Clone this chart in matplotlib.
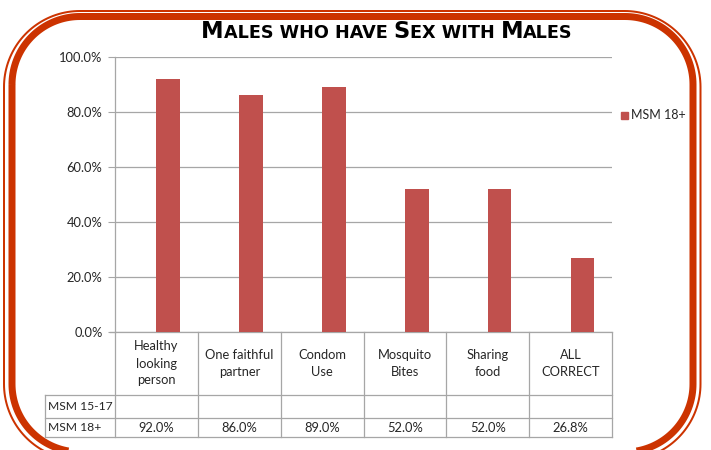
import matplotlib
matplotlib.use("Agg")
import matplotlib.pyplot as plt
import matplotlib.transforms as mtransforms
from matplotlib.patches import Rectangle, Polygon
from matplotlib.lines import Line2D
import numpy as np

# ---------------- data ----------------
categories = ["Healthy\nlooking\nperson", "One faithful\npartner", "Condom\nUse",
              "Mosquito\nBites", "Sharing\nfood", "ALL\nCORRECT"]
series_names = ["MSM 15-17", "MSM 18+"]
msm_15_17 = [None, None, None, None, None, None]
msm_18_plus = [92.0, 86.0, 89.0, 52.0, 52.0, 26.8]
y_ticks = [0, 20, 40, 60, 80, 100]
title = "Males who have Sex with Males"

# ---------------- style ----------------
BAR_COLOR = "#C0504D"
BORDER = "#CC3300"
GRID = "#A6A6A6"
TEXT = "#262626"
FONT = ["Lato", "DejaVu Sans"]
plt.rcParams["font.family"] = FONT
FS = 9.3

W, H = 711, 450
fig = plt.figure(figsize=(W / 100, H / 100), dpi=100)
fig.patch.set_facecolor("white")

# pixel helper axes (overlay, full figure, y down)
ov = fig.add_axes([0, 0, 1, 1], zorder=0)
ov.set_xlim(0, W)
ov.set_ylim(H, 0)
ov.axis("off")

# main plot area
x0, x1 = 115, 612
y_top, y_bot = 57, 332
ax = fig.add_axes([x0 / W, (H - y_bot) / H, (x1 - x0) / W, (y_bot - y_top) / H], zorder=2)
ax.patch.set_alpha(0)

n = len(categories)
xs = np.arange(n)
bw = 1 / 3.5
for k, (name, vals) in enumerate(zip(series_names, [msm_15_17, msm_18_plus])):
    offs = (k - 0.5) * bw
    v = [np.nan if a is None else a for a in vals]
    ax.bar(xs + offs, v, width=bw, color=BAR_COLOR, label=name, zorder=3)

ax.set_xlim(-0.5, n - 0.5)
ax.set_ylim(0, 100)
ax.set_yticks(y_ticks)
ax.set_yticklabels([f"{t:.1f}%" for t in y_ticks], color=TEXT, fontsize=FS)
ax.set_xticks([])
ax.tick_params(axis="y", length=5, color=GRID, pad=4)
ax.yaxis.grid(True, color=GRID, lw=0.9, zorder=0)
for s in ["top", "right", "bottom"]:
    ax.spines[s].set_visible(False)
ax.spines["left"].set_color(GRID)
ax.spines["left"].set_linewidth(0.9)

# ---------------- data table ----------------
bt = mtransforms.blended_transform_factory(ax.transData, ov.transData)
row_hdr_bot, row1_bot, row2_bot = 395, 418, 437
lab_left = 45
lw = 0.9
ov.add_line(Line2D([x0 - 5, x1], [y_bot, y_bot], color=GRID, lw=lw))
for yy in [row_hdr_bot, row1_bot, row2_bot]:
    ov.add_line(Line2D([lab_left, x1], [yy, yy], color=GRID, lw=lw))
for i in range(n + 1):
    xb = i - 0.5
    ax.add_line(Line2D([xb, xb], [y_bot, row2_bot], color=GRID, lw=lw,
                       transform=bt, clip_on=False))
ov.add_line(Line2D([lab_left, lab_left], [row_hdr_bot, row2_bot], color=GRID, lw=lw))

for i, c in enumerate(categories):
    ax.text(i, (y_bot + row_hdr_bot) / 2, c, transform=bt, ha="center", va="center",
            fontsize=FS, color=TEXT, linespacing=1.5, clip_on=False)
rows = [(series_names[0], msm_15_17, (row_hdr_bot + row1_bot) / 2),
        (series_names[1], msm_18_plus, (row1_bot + row2_bot) / 2)]
for name, vals, yc in rows:
    ov.text(lab_left + 3, yc, name, ha="left", va="center", fontsize=8.7, color=TEXT)
    for i, v in enumerate(vals):
        if v is not None:
            ax.text(i, yc, f"{v:.1f}%", transform=bt, ha="center", va="center",
                    fontsize=FS, color=TEXT, clip_on=False)

# ---------------- legend ----------------
ov.add_patch(Rectangle((621, 111.5), 7, 7, color=BAR_COLOR))
ov.text(631, 115, series_names[1], ha="left", va="center", fontsize=9, color=TEXT)

# ---------------- border (rounded rectangles, pixel coords) ----------------
def rrect(l, t, r, b, rad, lwpx):
    th = np.linspace(0, np.pi / 2, 40)
    pts = []
    cx, cy = l + rad, t + rad
    pts += list(zip(cx - rad * np.cos(th), cy - rad * np.sin(th)))
    cx, cy = r - rad, t + rad
    pts += list(zip(cx + rad * np.sin(th), cy - rad * np.cos(th)))
    cx, cy = r - rad, b - rad
    pts += list(zip(cx + rad * np.cos(th), cy + rad * np.sin(th)))
    cx, cy = l + rad, b - rad
    pts += list(zip(cx - rad * np.sin(th), cy + rad * np.cos(th)))
    ov.add_patch(Polygon(pts, closed=True, fill=False, ec=BORDER,
                         lw=lwpx * 0.72, joinstyle="round", clip_on=False))

rrect(12, 16.5, 693, 452, 68, 7)
rrect(4, 11, 700.5, 460, 76, 2)

# ---------------- small-caps title ----------------
fig.canvas.draw()
renderer = fig.canvas.get_renderer()
BIG, SMALL = 16.3, 12.7
TFONT = ["DejaVu Sans"]
runs = []
for ch in title:
    sz = BIG if ch.isupper() else SMALL
    c = ch.upper()
    if runs and runs[-1][1] == sz:
        runs[-1][0] += c
    else:
        runs.append([c, sz])
texts = []
for s, sz in runs:
    t = ov.text(0, 0, s, fontsize=sz, fontweight="bold", family=TFONT,
                ha="left", va="baseline", color="black")
    texts.append(t)
widths = [t.get_window_extent(renderer).width for t in texts]
total = sum(widths)
xc, ybase = 387, 38
xs_ = xc - total / 2
for t, w in zip(texts, widths):
    t.set_position((xs_, ybase))
    xs_ += w

fig.savefig("out.png", dpi=100, facecolor="white")
